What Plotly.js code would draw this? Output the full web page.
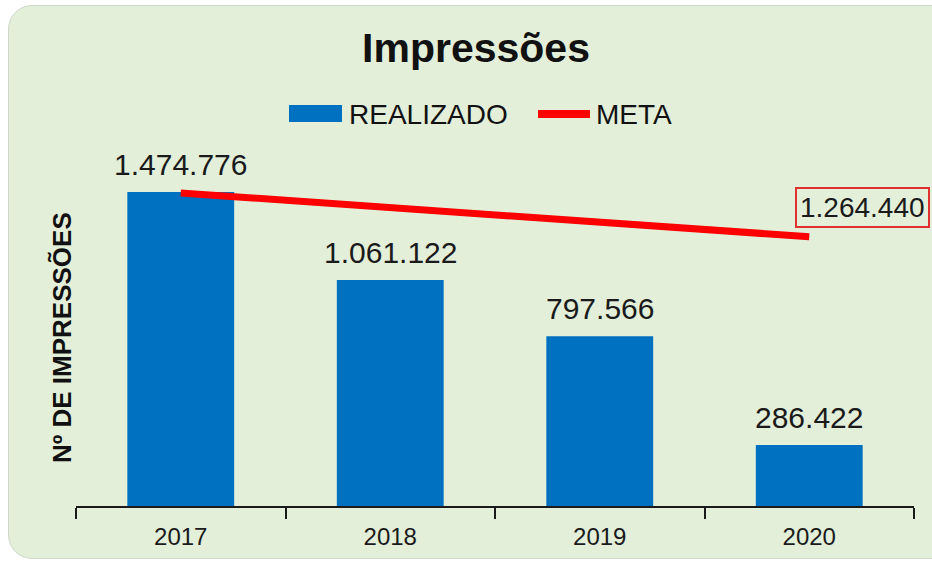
<!DOCTYPE html>
<html>
<head>
<meta charset="utf-8">
<script src="https://cdn.plot.ly/plotly-3.0.1.min.js"></script>
<style>
  html, body { margin:0; padding:0; background:#ffffff; width:932px; height:561px; overflow:hidden; }
  #bg { position:absolute; left:8px; top:5px; width:950px; height:552px; background:#e3efd9; border-radius:24px; border:1px solid #d0d8cc; }
  #chart { position:absolute; left:0; top:0; width:932px; height:561px; }
</style>
</head>
<body>
<div id="bg"></div>
<div id="chart"></div>
<script>
const categories = ['2017', '2018', '2019', '2020'];
const realizado = [1474776, 1061122, 797566, 286422];
const meta = [1470000, 1401000, 1333000, 1264440];
const metaLabel = '1.264.440';

const FONT = 'Liberation Sans, Arial, sans-serif';

const barTrace = {
  type: 'bar', name: 'REALIZADO', x: categories, y: realizado,
  marker: { color: '#0070c0' },
  hoverinfo: 'x+y'
};
const metaTrace = {
  type: 'scatter', mode: 'lines', name: 'META', x: categories, y: meta,
  line: { color: '#ff0000', width: 7 }, cliponaxis: false
};

const L = 76, R = 914, T = 150, B = 506;
const px = v => (v - L) / (R - L);
const py = v => (B - v) / (B - T);

const fmt = v => v.toString().replace(/\B(?=(\d{3})+(?!\d))/g, '.');

const valueLabels = categories.map((c, i) => ({
  xref: 'x', yref: 'y', x: i, y: realizado[i], xanchor: 'center', yanchor: 'bottom',
  yshift: 9, text: fmt(realizado[i]), showarrow: false,
  font: { family: FONT, size: 30, color: '#1a1a1a' }
}));

const layout = {
  width: 932, height: 561,
  margin: { l: L, r: 932 - R, t: T, b: 561 - B },
  paper_bgcolor: 'rgba(0,0,0,0)', plot_bgcolor: 'rgba(0,0,0,0)',
  separators: ',.',
  showlegend: false,
  bargap: 0.49,
  font: { family: FONT, color: '#1a1a1a' },
  title: {
    text: '<b>Impressões</b>', x: 476 / 932, xanchor: 'center', xref: 'container',
    y: 1 - 48 / 561, yanchor: 'middle', yref: 'container',
    font: { family: FONT, size: 41, color: '#111111' }
  },
  xaxis: {
    type: 'category', range: [-0.5, 3.5],
    showline: true, linecolor: '#1a1a1a', linewidth: 2,
    ticks: 'outside', tickson: 'boundaries', ticklen: 11, tickwidth: 2, tickcolor: '#1a1a1a',
    ticklabelstandoff: 8,
    tickfont: { family: FONT, size: 24, color: '#1a1a1a' },
    showgrid: false, zeroline: false, fixedrange: true
  },
  yaxis: {
    range: [0, 1672000], showticklabels: false, showgrid: false, zeroline: false, showline: false, ticks: '',
    fixedrange: true
  },
  shapes: [
    { type: 'rect', xref: 'paper', yref: 'paper', x0: px(289), x1: px(342), y0: py(122), y1: py(105),
      fillcolor: '#0070c0', line: { width: 0 } },
    { type: 'line', xref: 'paper', yref: 'paper', x0: px(538), x1: px(590), y0: py(114), y1: py(114),
      line: { color: '#ff0000', width: 8 } }
  ],
  annotations: valueLabels.concat([
    { xref: 'paper', yref: 'paper', x: px(347), y: py(114), xanchor: 'left', yanchor: 'middle',
      text: 'REALIZADO', showarrow: false,
      font: { family: FONT, size: 28, color: '#111111' } },
    { xref: 'paper', yref: 'paper', x: px(594), y: py(114), xanchor: 'left', yanchor: 'middle',
      text: 'META', showarrow: false,
      font: { family: FONT, size: 28, color: '#111111' } },
    { xref: 'paper', yref: 'paper', x: px(62), y: py(338), xanchor: 'center', yanchor: 'middle',
      textangle: -90, text: '<b>Nº DE IMPRESSÕES</b>', showarrow: false,
      font: { family: FONT, size: 26, color: '#111111' } },
    { xref: 'paper', yref: 'paper', x: px(795), y: py(207), xanchor: 'left', yanchor: 'middle',
      text: metaLabel, showarrow: false,
      bordercolor: '#e03030', borderwidth: 2, borderpad: 3, bgcolor: '#e3efd9',
      font: { family: FONT, size: 28, color: '#1a1a1a' } }
  ])
};

Plotly.newPlot('chart', [barTrace, metaTrace], layout, { displayModeBar: false, staticPlot: true });
</script>
</body>
</html>
